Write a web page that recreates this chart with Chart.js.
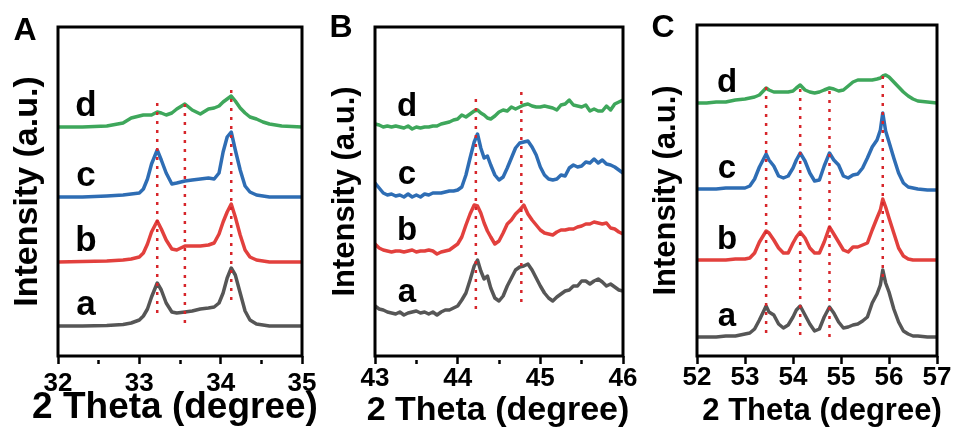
<!DOCTYPE html>
<html>
<head>
<meta charset="utf-8">
<title>XRD patterns</title>
<script src="https://cdn.jsdelivr.net/npm/chart.js@4.4.1/dist/chart.umd.min.js"></script>
<style>
    html, body { margin: 0; padding: 0; background: #fff; }
    #wrap { position: relative; width: 954px; height: 432px; overflow: hidden; }
    #wrap canvas { position: absolute; top: 0; }
</style>
</head>
<body>
<div id="wrap">
    <canvas id="chartA" width="340" height="432" style="left:0"></canvas>
    <canvas id="chartB" width="320" height="432" style="left:320px"></canvas>
    <canvas id="chartC" width="320" height="432" style="left:634px"></canvas>
</div>
<script>
// Sample names, bottom to top
const seriesNames = ['a', 'b', 'c', 'd'];
const xTitle = '2 Theta (degree)';
const yTitle = 'Intensity (a.u.)';

// Panel A, 32-35 degrees
const thetaA = [32.0, 32.3, 32.6, 32.8, 32.9, 33.0, 33.05, 33.1, 33.15, 33.22, 33.27, 33.33, 33.4, 33.46, 33.56, 33.65,
    33.75, 33.85, 33.92, 33.98, 34.03, 34.08, 34.13, 34.18, 34.24, 34.3, 34.36, 34.44, 34.52, 34.6, 34.75, 35.0];
const aA = [0, 0, 0.5, 1.5, 3, 6, 10, 17, 29, 43, 36, 23, 14, 13, 14, 15, 17, 18, 19, 23, 33, 48, 58, 51, 33, 15, 6, 2, 1, 0, 0, 0];
const bA = [0, 0.5, 1, 2, 3, 5, 9, 18, 30, 41, 33, 22, 13, 12, 16, 16, 16, 17, 19, 28, 40, 50, 58, 45, 27, 12, 5, 2, 1, 0, 0, 0];
const cA = [0, 0, 1, 2, 3, 4, 8, 18, 33, 47, 37, 24, 13, 14, 16, 17, 18, 19, 18, 24, 45, 60, 65, 47, 27, 11, 5, 2, 1, 0, 0, 0];
const dA = [0, 0, 1, 4, 9, 11, 12, 12, 12, 15, 14, 12, 14, 18, 23, 17, 13, 18, 19, 21, 25, 28, 31, 26, 19, 14, 10, 8, 5, 3, 1, 0];
const offsetsA = [30, 94, 159, 229];
const peaksA = [33.22, 33.56, 34.13];
const peakSpansA = [[43, 255], [33, 257], [56, 268]];

// Panel B, 43-46 degrees
const thetaB = [43.00, 43.05, 43.10, 43.15, 43.20, 43.25, 43.30, 43.35, 43.40, 43.45, 43.50, 43.55, 43.60, 43.65, 43.70,
    43.75, 43.80, 43.85, 43.90, 43.95, 44.00, 44.05, 44.10, 44.15, 44.20, 44.24, 44.28, 44.32, 44.36, 44.40, 44.45,
    44.50, 44.55, 44.60, 44.65, 44.70, 44.75, 44.80, 44.85, 44.90, 44.95, 45.00, 45.05, 45.10, 45.15, 45.20, 45.25,
    45.30, 45.35, 45.40, 45.45, 45.50, 45.55, 45.60, 45.65, 45.70, 45.75, 45.80, 45.85, 45.90, 45.95, 46.00];
const aB = [7, 4, 3, 1, 0, -1, 1, -2, 0, 1, 2, 0, 1, -1, 1, -2, 1, 3, 3, 5, 7, 13, 20, 33, 47, 53, 42, 34, 37, 25, 15,
    12, 17, 27, 35, 43, 46, 47, 49, 43, 35, 27, 20, 15, 12, 16, 19, 22, 23, 27, 27, 32, 32, 29, 32, 34, 31, 27, 29, 26, 23, 22];
const bB = [7, 3, 1, 0, -1, 0, 0, -1, 0, 1, -1, 0, 0, 1, 0, -3, -1, 0, 1, 4, 7, 14, 26, 37, 46, 45, 38, 28, 20, 14, 7,
    10, 18, 27, 31, 37, 41, 46, 37, 31, 26, 21, 18, 17, 16, 19, 21, 21, 22, 22, 24, 25, 27, 27, 29, 28, 27, 28, 23, 22, 19, 17];
const cB = [12, 7, 2, 0, 1, -1, 0, -2, 1, -2, 0, -2, 1, 0, 2, 2, 2, 3, 4, 4, 5, 8, 20, 37, 53, 61, 47, 37, 39, 30, 20,
    15, 18, 27, 37, 47, 52, 53, 54, 48, 40, 28, 20, 16, 15, 16, 20, 19, 27, 30, 28, 29, 33, 32, 36, 32, 35, 31, 30, 28, 25, 22];
const dB = [3, 2, 0, 1, 0, 1, 0, -1, 1, -2, 0, -1, 0, 0, 1, 1, 3, 4, 5, 7, 8, 12, 10, 13, 16, 17, 14, 12, 9, 8, 11,
    15, 17, 16, 20, 18, 20, 22, 23, 21, 20, 20, 21, 20, 19, 17, 22, 23, 27, 22, 21, 20, 22, 16, 18, 16, 16, 21, 17, 23, 25, 27];
const offsetsB = [43, 105, 161, 229];
const peaksB = [44.22, 44.77];
const peakSpansB = [[47, 257], [54, 264]];

// Panel C, 52-57 degrees
const thetaC = [52.0, 52.2, 52.4, 52.6, 52.8, 53.0, 53.1, 53.2, 53.3, 53.44, 53.5, 53.6, 53.7, 53.8, 53.9, 54.0, 54.07,
    54.15, 54.25, 54.35, 54.45, 54.55, 54.65, 54.76, 54.85, 54.95, 55.05, 55.15, 55.25, 55.35, 55.45, 55.55, 55.65,
    55.75, 55.82, 55.87, 55.93, 56.0, 56.1, 56.2, 56.3, 56.4, 56.5, 56.6, 56.8, 57.0];
const aC = [0, 0, 0, 1, 1, 3, 4, 8, 17, 31, 25, 22, 13, 9, 12, 20, 27, 31, 22, 13, 6, 8, 20, 30, 24, 15, 9, 10, 12, 13,
    16, 20, 34, 43, 52, 67, 54, 45, 28, 15, 6, 3, 1, 1, 0, 0];
const bC = [0, 0, 0, 0, 1, 1, 2, 7, 18, 29, 27, 20, 12, 7, 7, 17, 23, 28, 22, 12, 7, 7, 18, 33, 26, 18, 10, 8, 13, 13,
    15, 17, 30, 42, 50, 61, 53, 42, 27, 12, 4, 1, 0, 0, 0, 0];
const cC = [0, 0, 0, 1, 1, 1, 3, 10, 22, 35, 29, 23, 13, 11, 13, 21, 29, 36, 28, 16, 8, 9, 23, 36, 29, 24, 13, 11, 14, 15,
    21, 31, 42, 49, 59, 76, 58, 47, 31, 16, 6, 2, 1, 0, -1, -1];
const dC = [0, 0, 1, 1, 3, 4, 5, 6, 8, 15, 13, 11, 11, 11, 11, 12, 15, 18, 13, 11, 10, 11, 13, 15, 14, 12, 13, 17, 21, 23,
    23, 23, 23, 24, 25, 27, 28, 26, 21, 16, 11, 7, 4, 2, 1, 0];
const offsetsC = [19, 96, 167, 253];
const peaksC = [53.44, 54.15, 54.76, 55.87];
const peakSpansC = [[23, 269], [21, 273], [19, 271], [79, 286]];

const lineColors = ['#565656', '#e2403d', '#2e6db4', '#3ea75b'];
const guideColor = '#d7262b';
const fontFamily = '"Liberation Sans", Arial, Helvetica, sans-serif';

function isHalfStep(v) {
    return Math.abs(v - Math.round(v)) > 1e-6;
}

// Black box round the plot area, x title, curve letters and the panel letter
const panelDecor = {
    id: 'panelDecor',
    afterDatasetsDraw(chart, args, opts) {
        const { ctx, chartArea: area } = chart;
        ctx.save();
        ctx.lineWidth = 3;
        ctx.strokeStyle = '#000';
        ctx.strokeRect(area.left, area.top, area.right - area.left, area.bottom - area.top);
        ctx.restore();
    },
    afterDraw(chart, args, opts) {
        const { ctx, chartArea: area } = chart;
        const y = chart.scales.y;
        ctx.save();
        ctx.fillStyle = '#000';
        ctx.textAlign = 'center';

        // the axis title is wider than the plot, so it is drawn here without a width limit
        ctx.textBaseline = 'middle';
        ctx.font = 'bold ' + opts.xTitleSize + 'px ' + fontFamily;
        ctx.fillText(xTitle, (area.left + area.right) / 2 + opts.xTitleDx, opts.xTitleY);

        ctx.textBaseline = 'alphabetic';
        ctx.font = 'bold ' + opts.letterSize + 'px ' + fontFamily;
        opts.offsets.forEach(function(off, i) {
            ctx.fillText(seriesNames[i], area.left + opts.letterDx, y.getPixelForValue(off + 11));
        });
        ctx.font = 'bold 32px ' + fontFamily;
        ctx.fillText(opts.panel, opts.panelX, opts.panelY);
        ctx.restore();
    }
};

function buildPanel(canvasId, p) {
    const datasets = [];

    // dotted guides at the peak positions, listed first so they sit on top
    p.peaks.forEach(function(x, i) {
        datasets.push({
            data: [{ x: x, y: p.spans[i][0] }, { x: x, y: p.spans[i][1] }],
            borderColor: guideColor,
            borderWidth: 2.5,
            borderDash: [3, 6],
            pointRadius: 0
        });
    });

    p.series.forEach(function(values, i) {
        datasets.push({
            label: seriesNames[i],
            data: p.theta.map(function(x, k) { return { x: x, y: values[k] + p.offsets[i] }; }),
            borderColor: lineColors[i],
            borderWidth: 3.5,
            borderJoinStyle: 'round',
            borderCapStyle: 'round',
            pointRadius: 0,
            tension: 0
        });
    });

    return new Chart(document.getElementById(canvasId), {
        type: 'line',
        data: { datasets: datasets },
        plugins: [panelDecor],
        options: {
            responsive: false,
            animation: false,
            events: [],
            layout: { padding: { top: p.top, right: p.right, bottom: 0, left: 0 } },
            plugins: {
                legend: { display: false },
                tooltip: { enabled: false },
                panelDecor: {
                    offsets: p.offsets,
                    panel: p.panel,
                    panelX: p.panelX,
                    panelY: p.panelY,
                    letterDx: p.letterDx,
                    letterSize: p.letterSize,
                    xTitleSize: p.xTitleSize,
                    xTitleDx: p.xTitleDx,
                    xTitleY: p.xTitleY
                }
            },
            scales: {
                x: {
                    type: 'linear',
                    min: p.min,
                    max: p.max,
                    afterFit: function(scale) { scale.height = 76; },
                    border: { display: false },
                    grid: {
                        drawOnChartArea: false,
                        drawTicks: true,
                        tickLength: 8,
                        tickWidth: 2.5,
                        tickColor: '#000',
                        tickBorderDash: function(c) {
                            return c.tick && isHalfStep(c.tick.value) ? [0, 4, 20, 0] : [];
                        }
                    },
                    ticks: {
                        stepSize: p.step,
                        autoSkip: false,
                        maxRotation: 0,
                        padding: p.tickPad,
                        color: '#000',
                        font: { family: fontFamily, size: 26, weight: 'bold' },
                        callback: function(v) { return isHalfStep(v) ? '' : v; }
                    },
                    title: { display: false }
                },
                y: {
                    min: 0,
                    max: p.yMax,
                    afterFit: function(scale) { scale.width = p.yWidth; },
                    grid: { display: false },
                    border: { display: false },
                    ticks: { display: false },
                    title: {
                        display: true,
                        text: yTitle,
                        color: '#000',
                        font: { family: fontFamily, size: p.yTitleSize, weight: 'bold' },
                        padding: { top: p.yTitlePad, bottom: 0 }
                    }
                }
            }
        }
    });
}

buildPanel('chartA', {
    theta: thetaA, series: [aA, bA, cA, dA], offsets: offsetsA, peaks: peaksA, spans: peakSpansA,
    min: 32, max: 35, step: 0.5, yMax: 329, top: 27, right: 38, yWidth: 58,
    tickPad: 4, xTitleSize: 37, xTitleDx: -5, xTitleY: 408, yTitleSize: 34, yTitlePad: 7,
    panel: 'A', panelX: 25, panelY: 40, letterDx: 28, letterSize: 35
});

buildPanel('chartB', {
    theta: thetaB, series: [aB, bB, cB, dB], offsets: offsetsB, peaks: peaksB, spans: peakSpansB,
    min: 43, max: 46, step: 0.5, yMax: 329, top: 27, right: 17, yWidth: 55,
    tickPad: -1, xTitleSize: 34, xTitleDx: -1, xTitleY: 411, yTitleSize: 31, yTitlePad: 7,
    panel: 'B', panelX: 21, panelY: 37, letterDx: 32, letterSize: 33
});

buildPanel('chartC', {
    theta: thetaC, series: [aC, bC, cC, dC], offsets: offsetsC, peaks: peaksC, spans: peakSpansC,
    min: 52, max: 57, step: 1, yMax: 331, top: 25, right: 17, yWidth: 63,
    tickPad: -2, xTitleSize: 31, xTitleDx: 5, xTitleY: 411, yTitleSize: 31, yTitlePad: 14,
    panel: 'C', panelX: 29, panelY: 37, letterDx: 30, letterSize: 33
});
</script>
</body>
</html>
